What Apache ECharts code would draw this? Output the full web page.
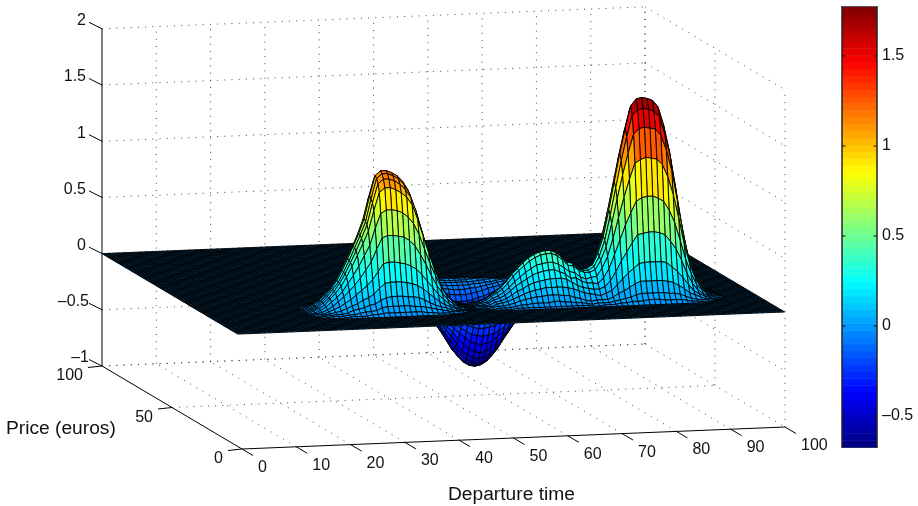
<!DOCTYPE html>
<html><head><meta charset="utf-8"><style>html,body{margin:0;background:#fff}#c{width:918px;height:506px}</style>
<script src="https://cdn.jsdelivr.net/npm/echarts@6/dist/echarts.min.js"></script></head><body><div id="c"></div>
<script>
const xTicks=[0,10,20,30,40,50,60,70,80,90,100];
const yTicks=[0,50,100];
const zTicks=[-1,-0.5,0,0.5,1,1.5,2];
const barTicks=[-0.5,0,0.5,1,1.5];
const barMin=-0.672, barMax=1.772;
const surfaceXCount=101, surfaceYFirst=3, surfaceYLast=100;

// Surface heights, in hundredths. Everything not listed lies flat at 0.
const leftPeakStartX=19;
const leftPeakY=[16,17,18,19,20,21,22,23,24,25,26,27,28,29,30,31,32,33,34,35];
const leftPeakZ=[
[0,0,0,0,0,1,1,1,1,2,2,3,3,3,3,3,3,3,3,2,2,1,1,1,0,0,0,0],
[0,0,1,1,1,2,2,3,4,4,5,7,8,8,8,8,8,7,7,6,5,4,3,2,1,1,0,0],
[0,1,1,2,2,3,5,6,7,9,10,13,15,16,16,16,15,15,14,12,9,7,5,4,2,1,1,0],
[0,1,2,3,4,6,8,10,13,15,18,23,27,28,28,28,27,26,24,21,17,13,9,6,4,2,1,0],
[1,1,3,5,7,10,13,17,21,25,30,37,44,45,45,44,43,41,38,33,27,21,15,10,6,3,1,0],
[1,2,4,7,11,15,20,25,31,38,45,56,66,68,68,67,66,63,58,50,41,31,22,15,9,5,2,1],
[1,3,6,10,14,19,26,33,41,50,59,74,87,90,90,89,87,83,77,67,54,41,30,20,12,7,3,1],
[2,4,7,12,17,23,31,40,50,60,71,89,105,109,109,107,104,100,93,80,65,50,36,24,14,8,4,1],
[2,4,8,12,18,25,33,43,53,64,76,95,112,116,116,114,111,106,99,86,69,53,38,26,15,9,4,1],
[2,4,8,13,19,25,34,44,55,66,78,98,116,120,120,118,115,110,102,88,72,55,39,26,16,9,4,1],
[2,4,8,13,19,26,35,45,56,67,80,100,118,122,122,120,117,112,104,90,73,56,40,27,16,9,4,1],
[2,4,8,13,18,25,34,44,54,65,78,97,114,118,118,116,113,109,101,87,71,54,39,26,16,9,4,1],
[2,4,7,11,17,23,31,40,49,59,70,88,104,107,107,106,103,99,92,79,64,49,35,24,14,8,4,1],
[1,3,6,9,14,19,25,32,40,48,58,72,85,88,88,86,84,81,75,65,53,40,29,19,12,6,3,1],
[1,2,4,7,10,14,19,24,30,36,43,54,64,66,66,65,63,60,56,49,39,30,22,15,9,5,2,1],
[1,1,3,5,7,9,13,16,20,24,29,36,42,44,44,43,42,40,37,32,26,20,14,10,6,3,1,0],
[0,1,2,3,4,6,8,10,12,15,18,22,26,27,27,26,26,25,23,20,16,12,9,6,4,2,1,0],
[0,0,1,2,2,3,4,5,7,8,10,12,14,15,15,14,14,13,12,11,9,7,5,3,2,1,0,0],
[0,0,0,1,1,2,2,3,3,4,5,6,7,7,7,7,7,7,6,5,4,3,2,2,1,1,0,0],
[0,0,0,0,0,1,1,1,1,1,2,2,2,2,2,2,2,2,2,2,1,1,1,1,0,0,0,0]];

const rightY=[18,19,20,21,22,23,24,25,26,27,28,29,30,31,32,33,34,35,36];
const rightStartX=[49,49,49,49,49,49,49,49,49,49,49,49,49,49,49,49,49,74,76];
const rightZ=[
[0,0,0,0,0,0,1,1,1,1,1,1,1,1,1,1,1,1,1,1,0,0,1,1,1,2,2,3,3,3,4,4,4,3,3,3,3,2,1,1],
[0,0,0,1,1,1,2,3,3,4,4,4,4,5,5,4,4,3,3,2,1,2,2,2,3,4,5,6,8,9,9,9,9,9,8,8,7,5,3,2,1,1],
[0,0,1,2,2,3,4,6,7,8,9,9,10,10,10,9,9,7,6,4,3,4,4,4,6,9,11,14,17,19,19,19,19,19,18,17,14,11,7,5,3,1,1],
[0,1,1,3,4,5,7,9,11,13,14,15,16,16,16,16,15,14,12,10,9,8,7,9,11,16,21,26,30,34,35,35,35,35,34,30,26,20,14,8,5,3,1],
[1,1,2,4,5,7,10,13,15,18,20,21,22,23,23,23,22,19,16,14,13,12,12,14,19,27,36,44,52,59,60,61,61,60,58,52,45,35,23,14,8,4,2,1],
[1,1,3,5,7,9,13,17,20,23,26,28,29,30,30,28,26,22,22,19,17,17,16,21,29,41,54,67,78,88,91,92,92,90,87,79,68,52,35,22,12,7,3,1,1],
[1,2,3,6,8,11,15,20,24,28,31,34,35,36,36,34,31,27,26,22,20,21,22,29,39,55,73,91,107,121,124,126,125,124,119,108,92,71,48,30,17,9,4,1,1],
[1,2,4,7,10,13,18,24,29,33,37,40,42,43,43,41,37,32,31,27,25,25,27,35,47,67,89,110,129,146,151,152,151,150,144,131,112,86,58,36,21,11,5,2,1],
[1,2,4,7,10,14,19,25,30,35,39,42,44,45,45,43,39,34,33,28,26,26,29,38,52,74,98,122,143,162,167,168,167,165,160,144,124,95,65,40,23,12,6,2,1],
[1,2,4,7,10,14,18,24,29,34,38,41,43,44,44,42,38,33,32,27,26,27,30,40,55,78,103,128,150,170,176,177,176,174,168,152,130,100,68,42,24,13,6,2,1],
[1,2,4,6,9,12,17,22,26,31,34,37,39,40,40,38,35,31,30,26,24,26,28,39,53,76,100,124,146,165,171,172,171,169,163,147,126,97,66,41,23,13,6,2,1],
[1,1,3,5,7,10,14,18,22,25,28,30,32,32,32,31,28,25,25,21,20,22,26,34,49,69,91,113,132,150,155,156,155,153,148,134,114,88,60,37,21,11,5,2,1],
[1,1,2,4,6,8,10,14,17,19,21,23,24,25,25,24,22,19,19,16,16,19,22,29,41,58,76,95,111,126,130,131,130,129,124,112,96,74,50,31,18,10,4,1,1],
[0,1,2,3,4,6,8,10,12,14,16,17,18,18,18,18,17,15,13,11,11,14,16,22,30,44,58,72,84,95,99,99,99,97,94,85,73,56,38,24,13,7,3,1,1],
[0,1,1,2,3,4,5,6,8,9,10,11,11,11,11,11,10,8,7,6,6,8,11,15,21,30,39,49,57,65,67,67,67,66,64,58,49,38,26,16,9,5,2,1],
[0,0,1,1,1,2,2,3,4,5,5,5,6,6,6,6,5,4,3,3,3,4,7,9,12,18,24,29,35,39,40,41,40,40,39,35,30,23,16,10,6,3,1],
[0,0,0,0,1,1,1,2,2,2,2,3,3,3,3,3,2,2,2,1,2,2,3,5,7,10,13,17,20,22,23,23,23,23,22,20,17,13,9,5,3,2,1],
[5,6,8,9,10,11,11,11,10,10,9,8,6,4,3,1,1],
[3,3,3,4,4,4,3,3,3,3,2,1,1]];

// Depth of the dip below the flat sheet, row by row outward from its centre row.
const dipCentreY=41;
const dipStartX=[39,39,39,40,40,40,41,41,42,42,43,44,46,48,51];
const dipDepth=[
[1,2,4,7,11,16,22,29,36,44,52,58,63,66,67,66,63,58,52,44,36,29,22,16,11,7,4,2,1],
[1,2,4,7,11,16,22,28,35,43,51,57,62,65,66,65,62,57,51,43,35,28,22,16,11,7,4,2,1],
[1,2,4,6,10,15,20,27,34,41,48,54,59,62,63,62,59,54,48,41,34,27,20,15,10,6,4,2,1],
[2,3,6,9,13,19,25,31,37,44,51,54,57,58,57,54,51,44,37,31,25,19,13,9,6,3,2],
[1,3,5,8,12,16,22,28,33,39,44,48,51,52,51,48,44,39,33,28,22,16,12,8,5,3,1],
[1,2,4,6,10,14,18,23,29,33,37,41,43,44,43,41,37,33,29,23,18,14,10,6,4,2,1],
[2,3,5,8,11,15,19,23,28,31,34,35,36,35,34,31,28,23,19,15,11,8,5,3,2],
[1,2,4,6,9,12,15,18,22,25,27,28,29,28,27,25,22,18,15,12,9,6,4,2,1],
[1,2,4,6,9,11,14,16,19,20,22,22,22,20,19,16,14,11,9,6,4,2,1],
[1,2,3,4,6,8,10,12,13,15,16,16,16,15,13,12,10,8,6,4,3,2,1],
[1,2,2,4,5,6,8,9,10,11,11,11,10,9,8,6,5,4,2,2,1],
[1,1,2,3,4,5,6,6,7,7,7,6,6,5,4,3,2,1,1],
[1,2,2,3,3,4,4,4,4,4,3,3,2,2,1],
[1,1,2,2,2,2,2,2,2,1,1],
[1,1,1,1,1]];

const xTitle='Departure time', yTitle='Price (euros)';
const FONT='"Liberation Sans", Helvetica, Arial, sans-serif';
const MESH_STEP_X=1.007;

// the fixed 3-D view: the chart's own box, seen in parallel projection
function project(x,y,z){return [242+5.43*x-1.40*y, 449-0.22*x-0.83*y-112.4*(z+1)];}

const height={};
for(let y=surfaceYFirst;y<=surfaceYLast;y++) height[y]=new Array(surfaceXCount).fill(0);
function addRow(y,startX,vals,sign){vals.forEach((v,i)=>{height[y][startX+i]+=sign*v;});}
leftPeakY.forEach((y,j)=>addRow(y,leftPeakStartX,leftPeakZ[j],1));
rightY.forEach((y,j)=>addRow(y,rightStartX[j],rightZ[j],1));
dipDepth.forEach((row,d)=>{addRow(dipCentreY+d,dipStartX[d],row,-1); if(d) addRow(dipCentreY-d,dipStartX[d],row,-1);});

function jet(t){
  const c=v=>Math.round(255*Math.max(0,Math.min(1,v)));
  return 'rgb('+c(Math.min(4*t-1.5,-4*t+4.5))+','+c(Math.min(4*t-0.5,-4*t+3.5))+','+c(Math.min(4*t+0.5,-4*t+2.5))+')';
}
function levelOf(v){return Math.max(0,Math.min(63,Math.floor((v-barMin)/(barMax-barMin)*64)));}
function levelColor(l){return jet((l+0.5)/64);}

const cells=[];
for(let y=surfaceYLast-1;y>=surfaceYFirst;y--) for(let x=surfaceXCount-2;x>=0;x--) cells.push([x,y]);

const dotted=[];
const wall=(a,b,c,d,e,f)=>dotted.push([a,b,c,d,e,f]);
zTicks.forEach(z=>{wall(0,100,z,100,100,z);wall(100,100,z,100,0,z);});
xTicks.forEach(x=>{if(x>0)wall(x,100,-1,x,100,2);if(x>0&&x<100)wall(x,0,-1,x,100,-1);});
yTicks.forEach(y=>{if(y>0)wall(100,y,-1,100,y,2);if(y>0)wall(0,y,-1,100,y,-1);});
wall(100,0,-1,100,0,2);

const solid=[[0,100,-1,0,100,2],[0,100,-1,0,0,-1],[0,0,-1,100,0,-1]];
const tickMarks=[];
zTicks.forEach(z=>{const p=project(0,100,z);tickMarks.push([p[0],p[1],p[0]-13,p[1]-6.5]);});
yTicks.forEach(y=>{const p=project(0,y,-1);tickMarks.push([p[0],p[1],p[0]-14,p[1]+1.5]);});
xTicks.forEach(x=>{const p=project(x,0,-1);tickMarks.push([p[0],p[1],p[0]+11,p[1]+6.5]);});

const fmt=v=>v<0?'\u2013'+Math.abs(v):String(v);
const labels=[];
zTicks.forEach(z=>{const p=project(0,100,z);labels.push([z<0?89:86,p[1]-8,fmt(z),'right']);});
yTicks.forEach(y=>{const p=project(0,y,-1);labels.push([p[0]-19,p[1]+10,String(y),'right']);});
xTicks.forEach(x=>{const p=project(x,0,-1);labels.push([p[0]+16,p[1]+18.5,String(x),'left']);});

const barLevels=[];for(let i=0;i<64;i++)barLevels.push([0,1,i]);
const barTickMarks=[];barTicks.forEach(v=>{barTickMarks.push([0,0.1,v]);barTickMarks.push([1,0.9,v]);});

const chart=echarts.init(document.getElementById('c'),null,{renderer:'canvas'});
const seg=(api,a,b)=>({x1:a[0],y1:a[1],x2:b[0],y2:b[1]});
const barAxis=(pos)=>({gridIndex:1,type:'value',min:0,max:1,position:pos,axisLine:{show:true,onZero:false,lineStyle:{color:'#222',width:1.5}},axisTick:{show:false},axisLabel:{show:false},splitLine:{show:false}});
chart.setOption({
 animation:false,
 grid:[{left:0,top:0,width:918,height:506,show:false},{left:842,top:7,width:35,height:440,show:false}],
 xAxis:[{gridIndex:0,type:'value',min:0,max:918,show:false},barAxis('bottom'),barAxis('top')],
 yAxis:[
  {gridIndex:0,type:'value',min:0,max:506,inverse:true,show:false},
  {gridIndex:1,type:'value',min:barMin,max:barMax,position:'right',z:5,
   axisLine:{show:true,onZero:false,lineStyle:{color:'#222',width:1.5}},
   axisTick:{show:false},
   axisLabel:{show:true,margin:5,customValues:barTicks,formatter:v=>fmt(v),color:'#111',fontSize:16,fontFamily:FONT},
   splitLine:{show:false}},
  {gridIndex:1,type:'value',min:barMin,max:barMax,position:'left',z:5,
   axisLine:{show:true,onZero:false,lineStyle:{color:'#222',width:1.5}},
   axisTick:{show:false},axisLabel:{show:false},splitLine:{show:false}}
 ],
 graphic:[
  {type:'text',left:448,top:485,silent:true,style:{text:xTitle,font:'19.2px '+FONT,fill:'#111'}},
  {type:'text',left:6,top:419,silent:true,style:{text:yTitle,font:'19.2px '+FONT,fill:'#111'}}
 ],
 series:[
  {type:'custom',name:'walls',xAxisIndex:0,yAxisIndex:0,silent:true,clip:false,z:1,progressive:0,data:dotted,
   renderItem:(p,api)=>{const a=project(api.value(0),api.value(1),api.value(2)),b=project(api.value(3),api.value(4),api.value(5));
     const A=api.coord(a),B=api.coord(b);
     return {type:'line',shape:seg(api,A,B),style:{stroke:'#333',lineWidth:0.9,lineDash:[1,6.2],fill:null}};}},
  {type:'custom',name:'surface',xAxisIndex:0,yAxisIndex:0,silent:true,clip:false,z:2,progressive:0,data:cells,
   renderItem:(p,api)=>{const x=api.value(0),y=api.value(1);
     const h=(i,j)=>api.coord(project(i*MESH_STEP_X,j,height[j][i]/100));
     return {type:'polygon',shape:{points:[h(x,y),h(x+1,y),h(x+1,y+1),h(x,y+1)]},
       style:{fill:levelColor(levelOf(height[y][x]/100)),stroke:'#000',lineWidth:0.9}};}},
  {type:'custom',name:'axes',xAxisIndex:0,yAxisIndex:0,silent:true,clip:false,z:3,progressive:0,data:solid,
   renderItem:(p,api)=>{const A=api.coord(project(api.value(0),api.value(1),api.value(2))),B=api.coord(project(api.value(3),api.value(4),api.value(5)));
     return {type:'line',shape:seg(api,A,B),style:{stroke:'#000',lineWidth:1,fill:null}};}},
  {type:'custom',name:'ticks',xAxisIndex:0,yAxisIndex:0,silent:true,clip:false,z:3,progressive:0,data:tickMarks,
   renderItem:(p,api)=>{const A=api.coord([api.value(0),api.value(1)]),B=api.coord([api.value(2),api.value(3)]);
     return {type:'line',shape:seg(api,A,B),style:{stroke:'#000',lineWidth:1,fill:null}};}},
  {type:'custom',name:'tickLabels',xAxisIndex:0,yAxisIndex:0,silent:true,clip:false,z:3,progressive:0,data:labels.map((l,i)=>[l[0],l[1],i]),
   renderItem:(p,api)=>{const P=api.coord([api.value(0),api.value(1)]),l=labels[api.value(2)];
     return {type:'text',style:{x:P[0],y:P[1],text:l[2],align:l[3],verticalAlign:'middle',font:'16px '+FONT,fill:'#111'}};}},
  {type:'custom',name:'colorbar',xAxisIndex:1,yAxisIndex:1,silent:true,z:2,progressive:0,data:barLevels,
   renderItem:(p,api)=>{const i=api.value(2),s=(barMax-barMin)/64;
     const a=api.coord([0,barMin+i*s]),b=api.coord([1,barMin+(i+1)*s]);
     return {type:'rect',shape:{x:a[0],y:b[1],width:b[0]-a[0],height:a[1]-b[1]+0.5},style:{fill:levelColor(i)}};}},
  {type:'custom',name:'colorbarTicks',xAxisIndex:1,yAxisIndex:1,silent:true,z:4,progressive:0,data:barTickMarks,
   renderItem:(p,api)=>{const A=api.coord([api.value(0),api.value(2)]),B=api.coord([api.value(1),api.value(2)]);
     return {type:'line',shape:seg(api,A,B),style:{stroke:'#111',lineWidth:1,fill:null}};}}
 ]
});
</script></body></html>
